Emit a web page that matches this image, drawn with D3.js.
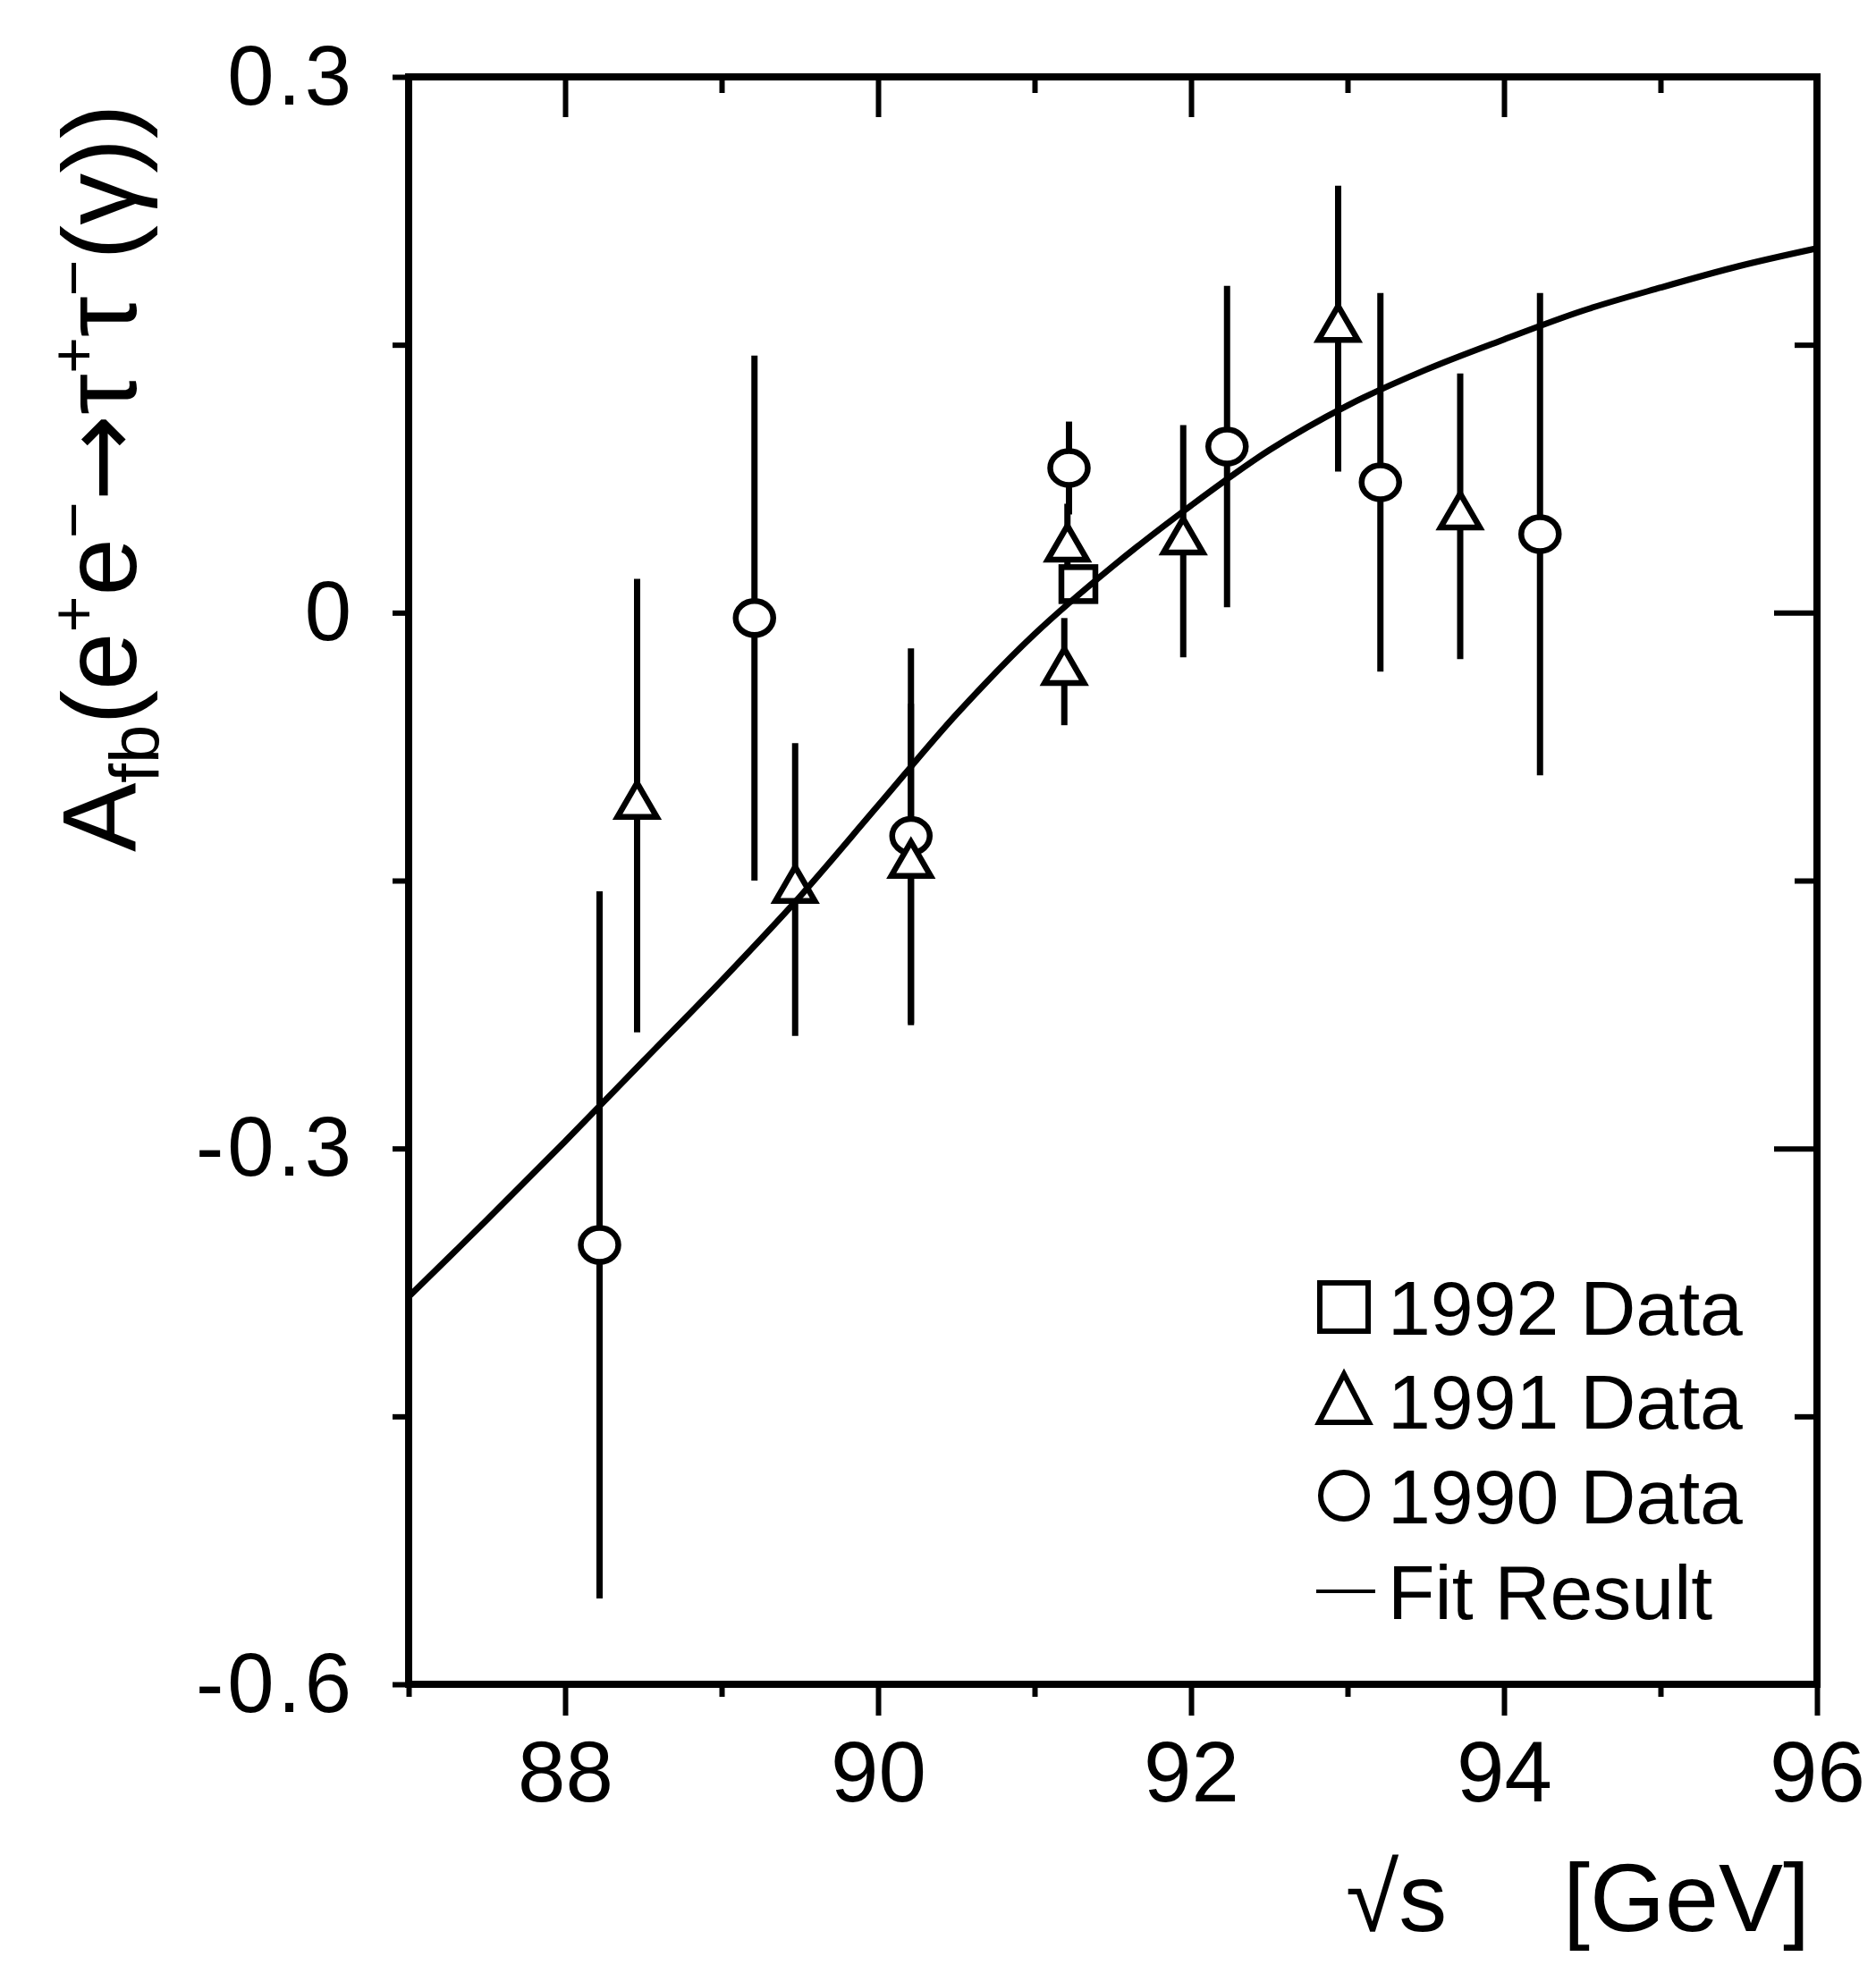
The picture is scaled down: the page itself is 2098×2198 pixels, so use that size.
<!DOCTYPE html>
<html lang="en">
<head>
  <meta charset="UTF-8">
  <title>Tau forward-backward asymmetry</title>
  <script src="https://d3js.org/d3.v7.min.js"></script>
  <style>
    body { margin: 0; background: #fff; }
    svg { display: block; font-family: "Liberation Sans", Arial, sans-serif; }
    .tick line { stroke: #000; stroke-width: 6px; }
    .tick text { fill: #000; }
    .xlab .tick text { font-size: 96px; }
    .ylab .tick text { font-size: 94px; letter-spacing: 4px; }
    .legend text { font-size: 86px; }
    .title { font-size: 108px; fill: #000; }
  </style>
</head>
<body>
  <svg id="chart" width="2098" height="2198"></svg>
  <script>
    // --- data ---
    const xTickValues = [88, 90, 92, 94, 96];
    const xTickLabels = ["88", "90", "92", "94", "96"];
    const xMinorTicks = [87, 89, 91, 93, 95];
    const yTickValues = [0.3, 0, -0.3, -0.6];
    const yTickLabels = ["0.3", "0", "-0.3", "-0.6"];
    const yMinorTicks = [0.15, -0.15, -0.45];

    // 1990 data (circles): sqrt(s), A_fb, error
    const x1990 = [88.22, 89.21, 90.21, 91.22, 92.23, 93.21, 94.23];
    const y1990 = [-0.354, -0.003, -0.125, 0.081, 0.093, 0.073, 0.044];
    const e1990 = [0.198, 0.147, 0.105, 0.026, 0.090, 0.106, 0.135];

    // 1991 data (triangles)
    const x1991 = [88.46, 89.47, 90.21, 91.21, 91.19, 91.95, 92.94, 93.72];
    const y1991 = [-0.108, -0.155, -0.141, 0.036, -0.033, 0.040, 0.159, 0.054];
    const e1991 = [0.127, 0.082, 0.090, 0.025, 0.030, 0.065, 0.080, 0.080];

    // 1992 data (square)
    const x1992 = [91.28];
    const y1992 = [0.016];
    const e1992 = [0.010];

    // fit result curve
    const fitX = [87.0, 87.5, 88.0, 88.5, 89.0, 89.5, 90.0, 90.5, 91.0, 91.5, 92.0, 92.5, 93.0, 93.5, 94.0, 94.5, 95.0, 95.5, 96.0];
    const fitY = [-0.383, -0.340, -0.296, -0.251, -0.206, -0.159, -0.108, -0.057, -0.012, 0.026, 0.060, 0.091, 0.116, 0.136, 0.153, 0.169, 0.182, 0.194, 0.204];

    const legendLabels = ["1992 Data", "1991 Data", "1990 Data", "Fit Result"];

    // --- layout ---
    const plotLeft = 457, plotRight = 2032, plotTop = 86, plotBottom = 1884;

    const svg = d3.select("#chart");
    svg.append("rect").attr("width", 2098).attr("height", 2198).attr("fill", "#fff");

    const x = d3.scaleLinear().domain([87, 96]).range([plotLeft, plotRight]);
    const y = d3.scaleLinear().domain([-0.6, 0.3]).range([plotBottom, plotTop]);

    // axes (bottom and left outward, top and right inward)
    function addAxis(axis, tx, ty, cls) {
      const g = svg.append("g")
        .attr("class", cls || "")
        .attr("transform", `translate(${tx},${ty})`)
        .call(axis);
      g.select(".domain").remove();
      return g;
    }

    addAxis(d3.axisBottom(x).tickValues(xTickValues).tickSize(35).tickPadding(28)
      .tickFormat((d, i) => xTickLabels[i]), 0, plotBottom, "xlab");
    addAxis(d3.axisBottom(x).tickValues(xMinorTicks).tickSize(14).tickFormat(""), 0, plotBottom);
    addAxis(d3.axisTop(x).tickValues(xTickValues).tickSize(-45).tickFormat(""), 0, plotTop);
    addAxis(d3.axisTop(x).tickValues(xMinorTicks).tickSize(-18).tickFormat(""), 0, plotTop);

    addAxis(d3.axisLeft(y).tickValues(yTickValues).tickSize(18).tickPadding(42)
      .tickFormat((d, i) => yTickLabels[i]), plotLeft, 0, "ylab");
    addAxis(d3.axisLeft(y).tickValues(yMinorTicks).tickSize(18).tickFormat(""), plotLeft, 0);
    addAxis(d3.axisRight(y).tickValues(yTickValues).tickSize(-48).tickFormat(""), plotRight, 0);
    addAxis(d3.axisRight(y).tickValues(yMinorTicks).tickSize(-25).tickFormat(""), plotRight, 0);

    svg.append("rect")
      .attr("x", plotLeft).attr("y", plotTop)
      .attr("width", plotRight - plotLeft).attr("height", plotBottom - plotTop)
      .attr("fill", "none").attr("stroke", "#000").attr("stroke-width", 8);

    // --- markers ---
    const triPath = (w, h) => `M0,${-h * 2 / 3}L${w / 2},${h / 3}L${-w / 2},${h / 3}Z`;

    function drawSet(xs, ys, es) {
      const pts = xs.map((d, i) => ({ x: d, y: ys[i], e: es[i] }));
      svg.append("g").selectAll("line").data(pts).join("line")
        .attr("x1", d => x(d.x)).attr("x2", d => x(d.x))
        .attr("y1", d => y(d.y + d.e)).attr("y2", d => y(d.y - d.e))
        .attr("stroke", "#000").attr("stroke-width", 7);
      return pts;
    }

    const p1990 = drawSet(x1990, y1990, e1990);
    const p1991 = drawSet(x1991, y1991, e1991);
    const p1992 = drawSet(x1992, y1992, e1992);

    const mk = svg.append("g").attr("fill", "#fff").attr("stroke", "#000").attr("stroke-width", 6.5);
    mk.selectAll(".c").data(p1990).join("ellipse")
      .attr("cx", d => x(d.x)).attr("cy", d => y(d.y))
      .attr("rx", 21).attr("ry", 19);
    mk.selectAll(".t").data(p1991).join("path")
      .attr("transform", d => `translate(${x(d.x)},${y(d.y)})`)
      .attr("d", triPath(44, 38));
    mk.selectAll(".s").data(p1992).join("rect")
      .attr("x", d => x(d.x) - 19).attr("y", d => y(d.y) - 19)
      .attr("width", 38).attr("height", 38);

    // --- fit curve ---
    const fit = fitX.map((d, i) => ({ x: d, y: fitY[i] }));
    svg.append("path").datum(fit)
      .attr("fill", "none").attr("stroke", "#000").attr("stroke-width", 7)
      .attr("d", d3.line().x(d => x(d.x)).y(d => y(d.y)).curve(d3.curveCatmullRom));

    // --- legend ---
    const lg = svg.append("g").attr("class", "legend");
    const rowY = [1462, 1567, 1673, 1780];
    const mx = 1503;
    lg.append("rect").attr("x", mx - 27).attr("y", rowY[0] - 27).attr("width", 54).attr("height", 54)
      .attr("fill", "#fff").attr("stroke", "#000").attr("stroke-width", 6);
    lg.append("path").attr("transform", `translate(${mx},${rowY[1] + 6})`).attr("d", triPath(56, 54))
      .attr("fill", "#fff").attr("stroke", "#000").attr("stroke-width", 6);
    lg.append("circle").attr("cx", mx).attr("cy", rowY[2]).attr("r", 26)
      .attr("fill", "#fff").attr("stroke", "#000").attr("stroke-width", 6);
    lg.append("line").attr("x1", 1472).attr("x2", 1538).attr("y1", rowY[3]).attr("y2", rowY[3])
      .attr("stroke", "#000").attr("stroke-width", 4);
    lg.selectAll("text").data(legendLabels).join("text")
      .attr("x", 1552).attr("y", (d, i) => rowY[i] + 31)
      .text(d => d);

    // --- axis titles ---
    svg.append("text").attr("class", "title").attr("x", 1505).attr("y", 2160).text("√s");
    svg.append("text").attr("class", "title").attr("x", 2024).attr("y", 2160)
      .attr("text-anchor", "end").text("[GeV]");

    const yt = svg.append("text").attr("class", "title")
      .attr("transform", "translate(152,953) rotate(-90)")
      .style("font-size", "116px");
    yt.append("tspan").text("A");
    yt.append("tspan").attr("dy", 26).style("font-size", "78px").text("fb");
    yt.append("tspan").attr("dy", -26).text("(e");
    yt.append("tspan").attr("dy", -46).style("font-size", "70px").text("+");
    yt.append("tspan").attr("dy", 46).text("e");
    yt.append("tspan").attr("dy", -46).style("font-size", "70px").text("−");
    yt.append("tspan").attr("dy", 46).style("font-family", "DejaVu Sans").text("→");
    yt.append("tspan").text("τ");
    yt.append("tspan").attr("dy", -46).style("font-size", "70px").text("+");
    yt.append("tspan").attr("dy", 46).text("τ");
    yt.append("tspan").attr("dy", -46).style("font-size", "70px").text("−");
    yt.append("tspan").attr("dy", 46).text("(γ))");
  </script>
</body>
</html>
